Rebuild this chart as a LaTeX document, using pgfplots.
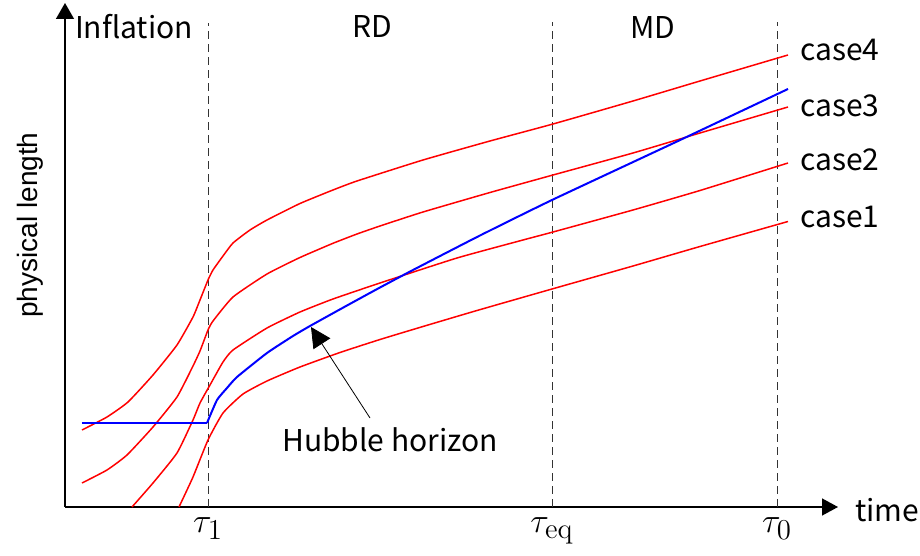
\documentclass[border=0pt]{standalone}
\usepackage{pgfplots}
\pgfplotsset{compat=1.18}
\usepackage[no-math]{fontspec}
\setmainfont{Noto Sans CJK JP}
\newfontfamily\arialfont{Liberation Sans}
\usetikzlibrary{arrows.meta}
\begin{document}
\begin{tikzpicture}
\begin{axis}[
  x=0.5pt, y=0.5pt,
  xmin=65, xmax=838, ymin=49, ymax=553,
  axis lines=left,
  x axis line style={line width=0.7pt,-{Triangle[width=8.5pt,length=8pt]}},
  y axis line style={line width=0.7pt,-{Triangle[width=9pt,length=8pt]}},
  xtick={208,552,777},
  xticklabels={$\tau_1$,$\tau_{\mathrm{eq}}$,$\tau_0$},
  xticklabel style={font=\fontsize{19}{22}\selectfont, yshift=-2pt},
  ytick=\empty,
  major tick length=0pt,
  clip=false,
  every axis plot/.append style={line join=round},
]
% dashed epoch lines
\addplot[black!80, line width=0.5pt, dash pattern=on 4pt off 2.5pt] coordinates {(208,49) (208,533)};
\addplot[black!80, line width=0.5pt, dash pattern=on 4pt off 2.5pt] coordinates {(552,49) (552,534)};
\addplot[black!80, line width=0.5pt, dash pattern=on 4pt off 2.5pt] coordinates {(777,49) (777,534)};
% case4
\addplot[red, line width=0.75pt, smooth, tension=0.3] coordinates {
(82,126) (107,139) (128,154) (153,181) (177,211) (193,239) (200,256) (208,276) (213,286) (223,300) (233,313) (250,326) (267,336) (300,352.5) (333,366) (357,375) (423,396) (490,415) (553,432) (633,455) (700,475) (788,501)};
% case3
\addplot[red, line width=0.75pt, smooth, tension=0.3] coordinates {
(82,73) (107,86) (127,101) (153,129) (177,159) (193,190) (200,205) (208,226) (213,235) (233,259) (267,282) (300,298.5) (333,312.7) (357,322) (380,330) (423,344) (490,363.5) (553,381) (633,403) (700,423) (788,449)};
% case2
\addplot[red, line width=0.75pt, smooth, tension=0.3] coordinates {
(132,49) (153,73) (177,103) (193,136) (200,153) (210,171) (223,194) (233,206) (267,228) (300,244) (333,257) (380,273) (457,298) (523,316) (553,324) (633,346) (700,365.5) (788,393)};
% case1
\addplot[red, line width=0.75pt, smooth, tension=0.3] coordinates {
(179,49) (193,79) (208,116) (223,143) (243,162) (267,175) (300,189) (340,203.5) (380,216.5) (423,229.5) (477,245.5) (552,267) (633,290) (700,309.5) (788,334.5)};
% Hubble horizon
\addplot[blue, line width=1pt] coordinates {(82,133) (207,133)};
\addplot[blue, line width=1pt, smooth, tension=0.3] coordinates {
(207,133) (217,156) (227,168) (237,179) (267,203) (293,220) (310,230) (347,250.5) (380,268.5) (413,286) (480,320.5) (552,356) (677,414.5) (788,467)};
% annotation arrow
\draw[black, line width=0.4pt, -{Triangle[length=10pt,width=10pt]}] (axis cs:370,138) -- (axis cs:311,229);
\node[font=\fontsize{15}{18}\selectfont] at (axis cs:390,116) {Hubble horizon};
% region labels
\node[font=\fontsize{15}{18}\selectfont] at (axis cs:134,529) {Inflation};
\node[font=\fontsize{15}{18}\selectfont] at (axis cs:372,529) {RD};
\node[font=\fontsize{15}{18}\selectfont] at (axis cs:653,528) {MD};
% case labels
\node[anchor=west, inner sep=0pt, font=\fontsize{15}{18}\selectfont] at (axis cs:800,506) {case4};
\node[anchor=west, inner sep=0pt, font=\fontsize{15}{18}\selectfont] at (axis cs:800,450) {case3};
\node[anchor=west, inner sep=0pt, font=\fontsize{15}{18}\selectfont] at (axis cs:800,396) {case2};
\node[anchor=west, inner sep=0pt, font=\fontsize{15}{18}\selectfont] at (axis cs:800,339) {case1};
% axis labels
\node[anchor=west, inner sep=0pt, font=\fontsize{15}{18}\selectfont] at (axis cs:855,46) {time};
\node[rotate=90, font=\arialfont\fontsize{14}{17}\selectfont] at (axis cs:30,331) {physical length};
\coordinate (BL) at (axis cs:0,0);
\coordinate (TR) at (axis cs:920,556);
\end{axis}
\pgfresetboundingbox
\path[use as bounding box] (BL) rectangle (TR);
\end{tikzpicture}
\end{document}
